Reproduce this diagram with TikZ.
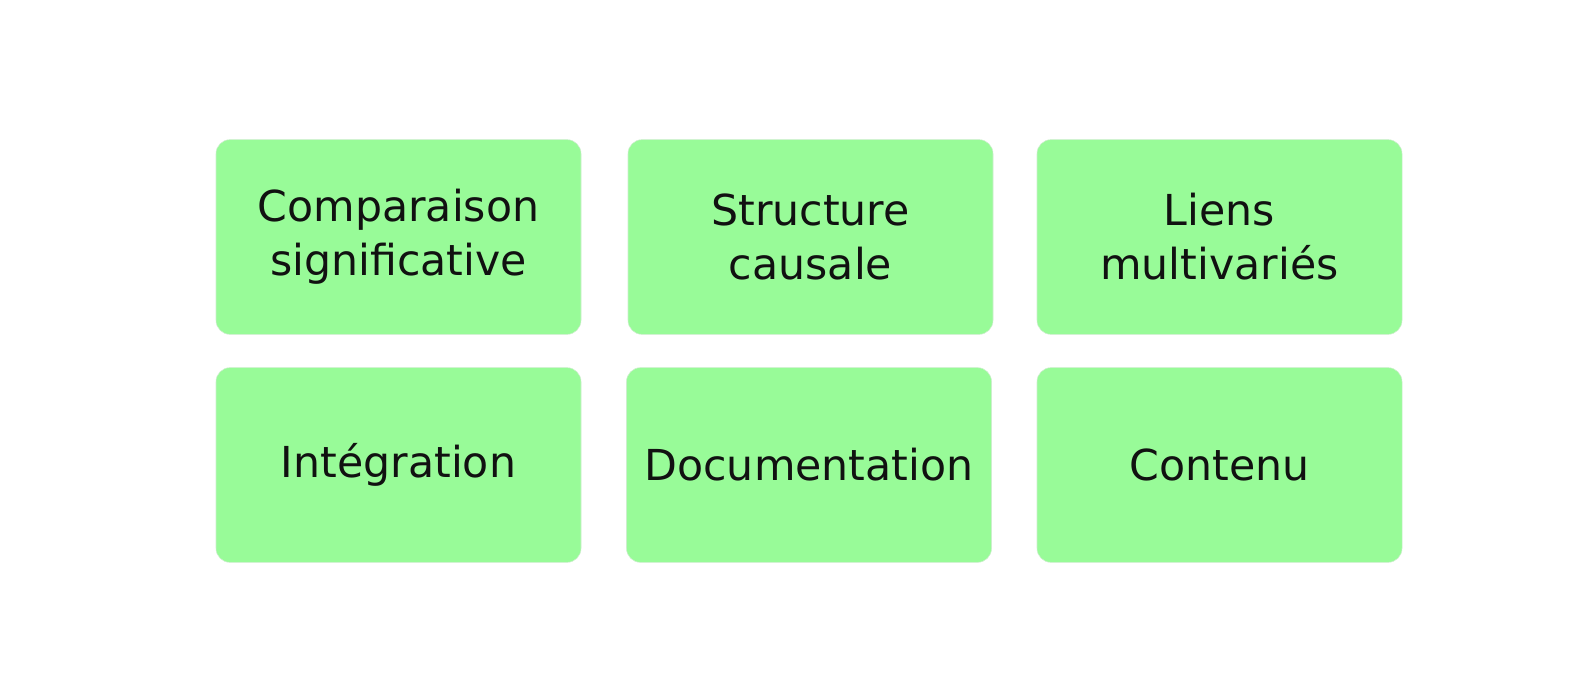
\documentclass[tikz,border=0pt]{standalone}
\usepackage{fontspec}
\setmainfont{DejaVu Sans}
\definecolor{boxgreen}{HTML}{98FB98}
\definecolor{boxtext}{HTML}{111111}
\tikzset{
  card/.style={fill=boxgreen, draw=boxgreen!85!black!40, line width=0.4pt, rounded corners=10.5pt,
    minimum width=273.75pt, minimum height=146pt, align=center, text=boxtext,
    font=\fontsize{32}{40.5}\selectfont}
}
\begin{document}
\begin{tikzpicture}[x=0.75pt, y=-0.75pt, line join=round, line cap=round]
					%%%%%%%%%%%%%%%%%%%%%%%%%%%%%%%%%
					\useasboundingbox[fill=white] (0,0) rectangle (1588,672);
					\coordinate (P1) at (398.5,237);
					\coordinate (P2) at (810.5,237);
					\coordinate (P3) at (1219.5,237);
					\coordinate (P4) at (398.5,465);
					\coordinate (P5) at (809,465);
					\coordinate (P6) at (1219.5,465);
					%%%%%%%%%%%%%%%%%%%%%%%%%%%%%%%%%
					\node[card] (comparaison) at (P1) {Comparaison\\significative};
					\node[card] (structure) at (P2) {Structure\\causale};
					\node[card] (liens) at (P3) {Liens\\multivariés};
					\node[card] (integration) at (P4) {Intégration};
					\node[card] (documentation) at (P5) {Documentation};
					\node[card] (contenu) at (P6) {Contenu};
					%%%%%%%%%%%%%%%%%%%%%%%%%%%%%%%%%
\end{tikzpicture}
\end{document}
